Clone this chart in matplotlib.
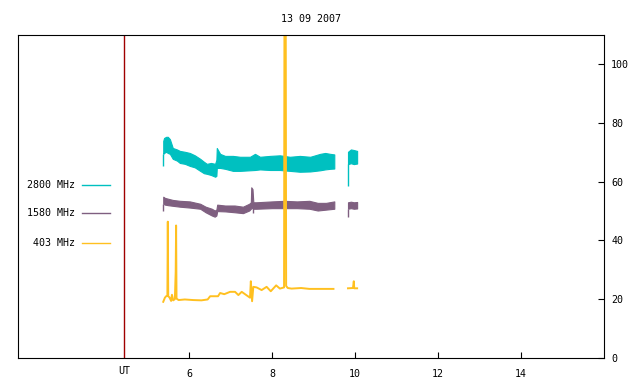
import numpy as np
import matplotlib
matplotlib.use('Agg')
from matplotlib import pyplot as plt
from matplotlib.transforms import blended_transform_factory

plt.rcParams['font.family'] = ['DejaVu Sans Mono']
plt.rcParams['font.size'] = 7.2

# 2800 MHz band (min / max envelope), hours UT
t2800 = [5.38, 5.40, 5.45, 5.49, 5.54, 5.61, 5.71, 5.78, 5.90, 6.02, 6.14, 6.27,
         6.36, 6.43, 6.53, 6.63, 6.66, 6.67, 6.75, 6.87, 7.06, 7.23, 7.47, 7.59,
         7.71, 7.95, 8.19, 8.43, 8.67, 8.92, 9.16, 9.28, 9.40, 9.50]
hi2800 = [73.9, 74.9, 75.3, 75.3, 74.5, 71.5, 71.0, 70.5, 70.2, 69.8, 69.0, 67.8,
          66.8, 66.1, 66.4, 66.1, 67.5, 71.5, 69.5, 68.8, 68.8, 68.5, 68.5, 69.5,
          68.5, 68.8, 69.0, 68.5, 68.8, 68.5, 69.5, 69.8, 69.5, 69.3]
lo2800 = [69.5, 69.8, 70.2, 69.8, 69.5, 67.8, 67.2, 66.4, 66.1, 65.4, 64.9, 63.7,
          62.9, 62.7, 62.3, 61.7, 62.0, 64.7, 64.7, 64.4, 63.7, 63.7, 63.9, 64.0,
          64.2, 64.0, 64.0, 63.7, 63.4, 63.5, 63.9, 64.2, 64.4, 64.5]
t2800b = [9.83, 9.90, 9.97, 10.05]
hi2800b = [70.2, 71.0, 70.8, 70.5]
lo2800b = [66.0, 66.3, 66.0, 66.2]

# 1580 MHz band
t1580 = [5.38, 5.42, 5.50, 5.61, 5.78, 6.02, 6.27, 6.40, 6.55, 6.62, 6.66, 6.68,
         6.87, 7.10, 7.30, 7.45, 7.49, 7.50, 7.53, 7.55, 7.62, 8.00, 8.30, 8.60,
         8.90, 9.10, 9.30, 9.50]
hi1580 = [54.9, 54.5, 54.2, 53.8, 53.5, 53.3, 52.5, 51.5, 50.8, 50.2, 50.5, 52.2,
          51.9, 51.9, 51.5, 52.5, 53.0, 58.1, 57.5, 53.0, 53.0, 53.3, 53.5, 53.3,
          53.5, 52.8, 52.8, 53.3]
lo1580 = [52.5, 52.2, 52.0, 51.8, 51.5, 51.2, 50.8, 49.6, 48.5, 48.1, 48.5, 50.0,
          49.9, 49.6, 49.3, 50.2, 50.8, 51.0, 51.0, 50.8, 50.8, 51.0, 51.0, 51.0,
          50.8, 50.2, 50.5, 50.8]
t1580b = [9.83, 9.90, 9.97, 10.05]
hi1580b = [53.0, 53.2, 53.0, 53.1]
lo1580b = [50.8, 51.0, 50.8, 50.9]

# single-sample dropouts at block starts
drop_t = [5.38, 9.83, 5.38, 9.83, 7.55]
drop_top = [69.5, 66.0, 52.5, 50.8, 51.0]
drop_bot = [65.4, 58.6, 49.9, 48.1, 49.2]
drop_col = ['#00c0c0', '#00c0c0', '#7f5f80', '#7f5f80', '#7f5f80']

# 403 MHz
t403 = [5.38, 5.42, 5.45, 5.48, 5.49, 5.50, 5.53, 5.57, 5.59, 5.62, 5.66, 5.68,
        5.69, 5.70, 5.75, 5.90, 6.10, 6.30, 6.45, 6.51, 6.70, 6.75, 6.85, 6.99,
        7.11, 7.19, 7.27, 7.40, 7.47, 7.49, 7.52, 7.55, 7.63, 7.75, 7.87, 7.97,
        8.10, 8.19, 8.29, 8.30, 8.33, 8.34, 8.38, 8.47, 8.70, 8.90, 9.20, 9.48]
v403 = [19.1, 20.5, 21.0, 21.2, 46.4, 21.0, 20.6, 19.4, 21.5, 19.6, 20.0, 29.3,
        45.1, 20.2, 19.7, 19.9, 19.7, 19.6, 19.9, 21.0, 21.0, 22.1, 21.7, 22.5,
        22.5, 21.4, 22.5, 21.2, 20.5, 26.1, 19.3, 24.2, 24.0, 23.1, 24.2, 22.7,
        24.7, 23.6, 24.0, 120.0, 120.0, 24.5, 23.8, 23.6, 23.8, 23.5, 23.5, 23.5]
t403b = [9.83, 9.95, 9.97, 9.98, 10.05]
v403b = [23.7, 23.8, 26.1, 23.7, 23.7]

labels = ['2800 MHz', '1580 MHz', '403 MHz']
colors = ['#00c0c0', '#7f5f80', '#ffc020']
legend_y = [59.0, 49.2, 39.3]
ut = 4.43

fig = plt.figure(figsize=(6.4, 3.84), dpi=100)
ax = fig.add_axes([0.028, 0.068, 0.916, 0.841])

ax.fill_between(t2800, lo2800, hi2800, color=colors[0], lw=0.8)
ax.fill_between(t2800b, lo2800b, hi2800b, color=colors[0], lw=0.8)
ax.fill_between(t1580, lo1580, hi1580, color=colors[1], lw=0.8)
ax.fill_between(t1580b, lo1580b, hi1580b, color=colors[1], lw=0.8)
ax.vlines(drop_t, drop_bot, drop_top, colors=drop_col, lw=1)
ax.plot(t403, v403, color=colors[2], lw=1.4)
ax.plot(t403b, v403b, color=colors[2], lw=1.4)

ax.axvline(ut, color='#a00000', lw=1)

# legend drawn gnuplot-style
tr = blended_transform_factory(ax.transAxes, ax.transData)
for lab, c, y in zip(labels, colors, legend_y):
    ax.text(0.097, y, lab, transform=tr, ha='right', va='center')
    ax.plot([0.109, 0.157], [y, y], color=c, lw=1, transform=tr)

ax.set_xlim(1.88, 16.0)
ax.set_ylim(0, 110)
ax.set_xticks([6, 8, 10, 12, 14])
ax.set_xticks([ut], minor=True)
ax.set_xticklabels(['UT'], minor=True)
ax.tick_params(axis='x', which='minor', length=0, pad=6)
ax.tick_params(axis='x', which='major', direction='in', length=4, pad=8)
ax.yaxis.tick_right()
ax.set_yticks([0, 20, 40, 60, 80, 100])
ax.tick_params(axis='y', direction='in', length=4, pad=5)
ax.set_title('13 09 2007', fontsize=7.2, pad=9)

plt.savefig('out.png', dpi=100)
